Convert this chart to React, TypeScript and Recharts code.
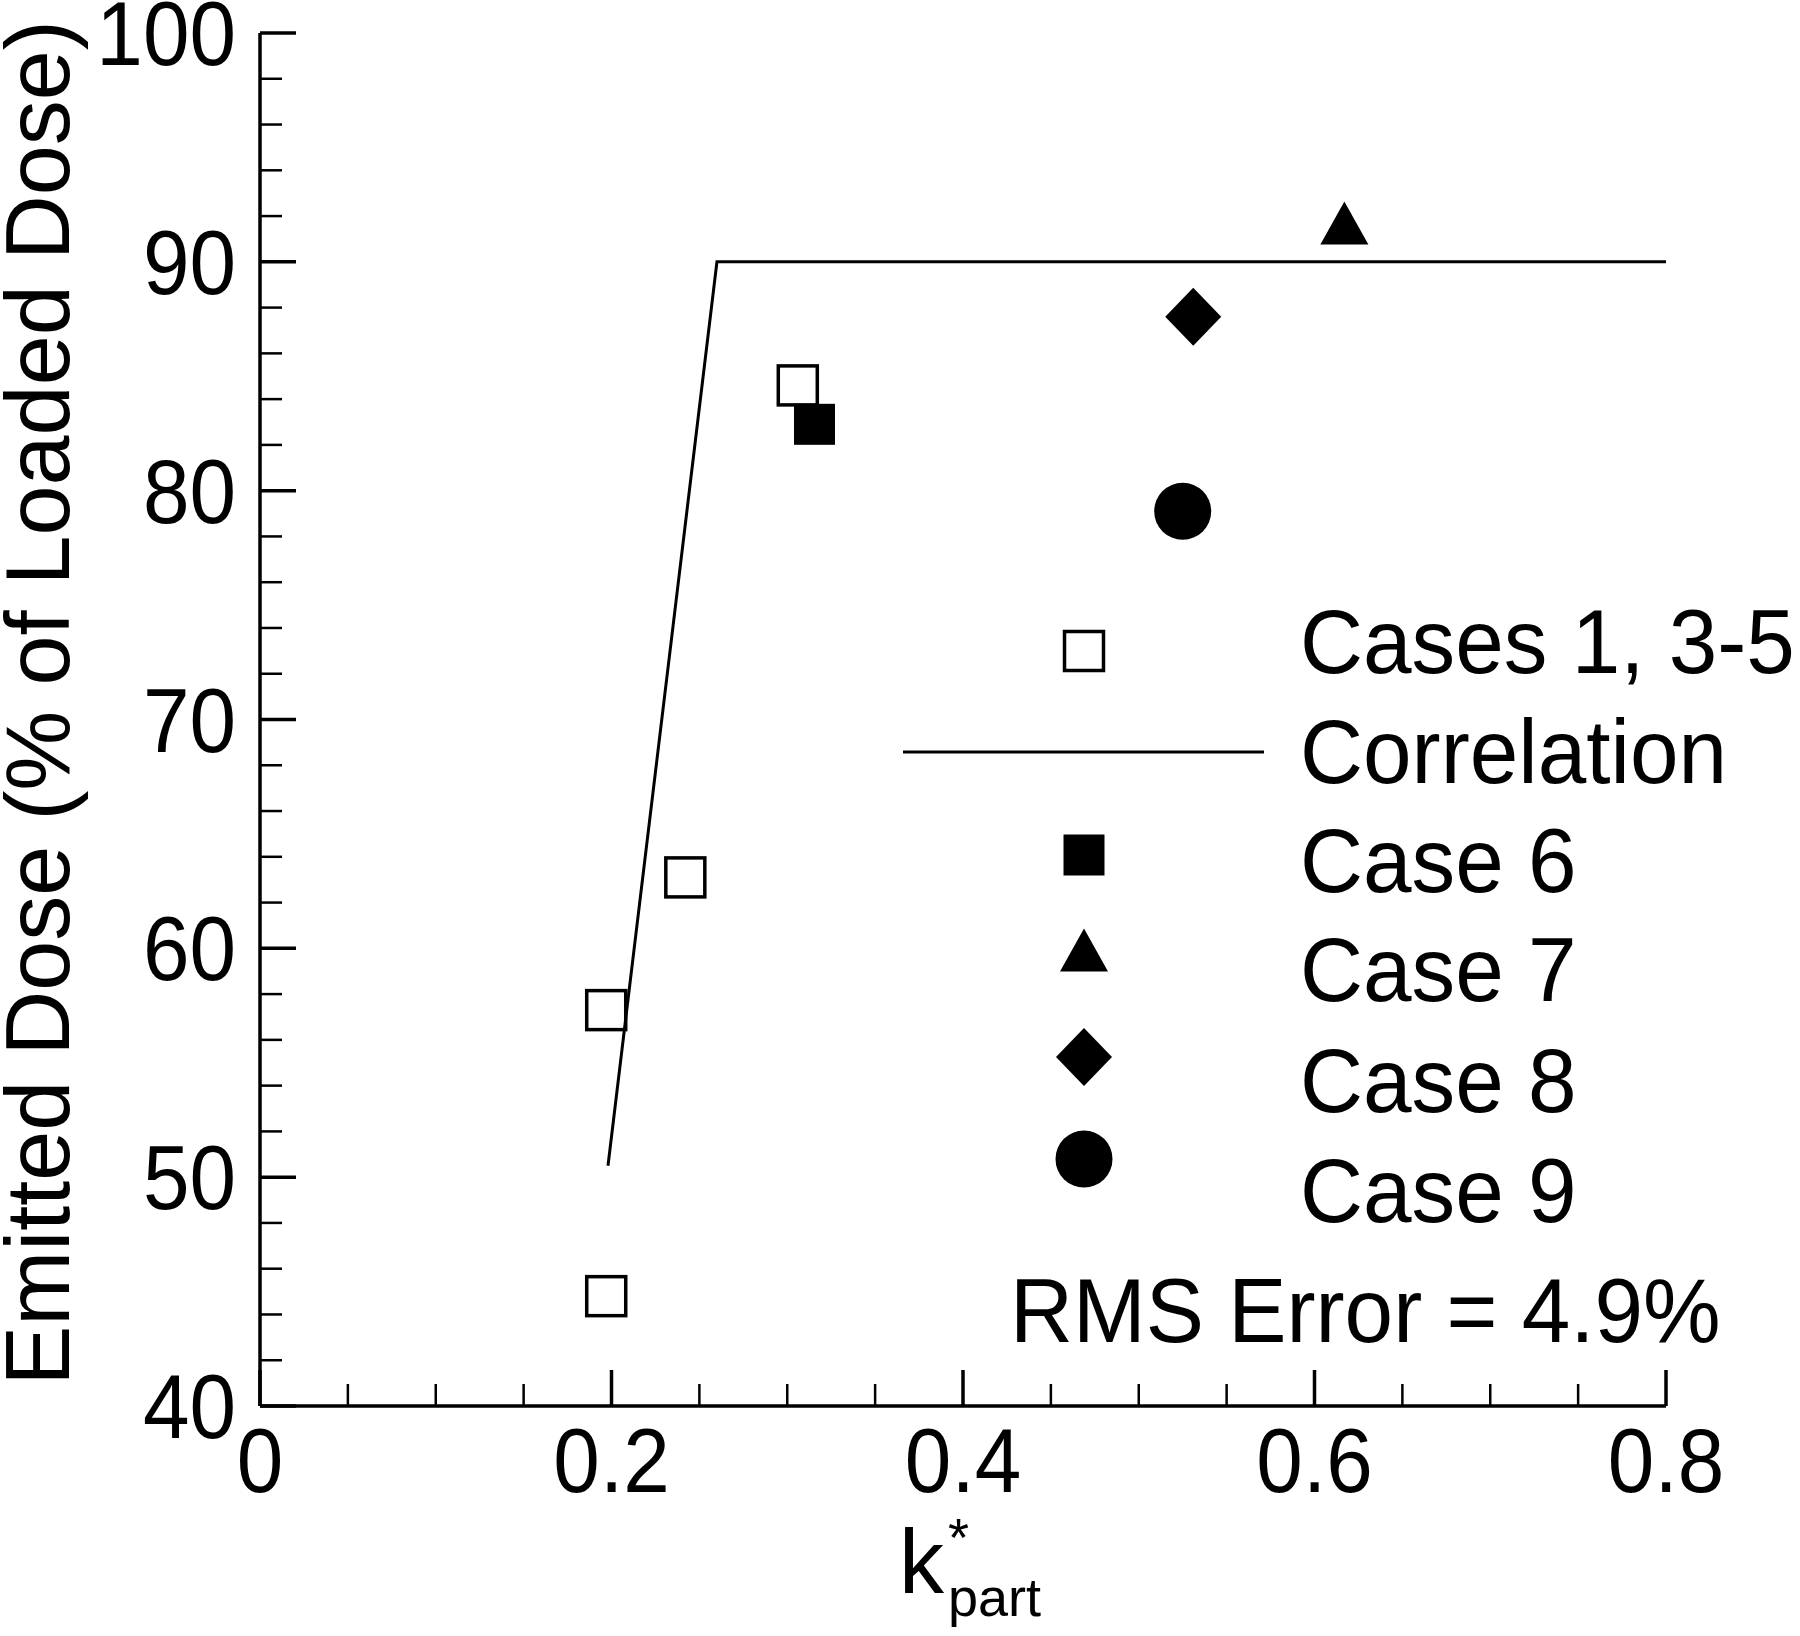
import React from 'react';
import { ScatterChart, Scatter, XAxis, YAxis, Legend, Label } from 'recharts';

const FONT = '"Liberation Sans", Arial, Helvetica, sans-serif';

// Tick values (major + minor)
const xTicks = [0, 0.05, 0.1, 0.15, 0.2, 0.25, 0.3, 0.35, 0.4, 0.45, 0.5, 0.55, 0.6, 0.65, 0.7, 0.75, 0.8];
const xMajorTicks = [0, 0.2, 0.4, 0.6, 0.8];
const yTicks = [40, 42, 44, 46, 48, 50, 52, 54, 56, 58, 60, 62, 64, 66, 68, 70, 72, 74, 76, 78, 80, 82, 84, 86, 88, 90, 92, 94, 96, 98, 100];
const yMajorTicks = [40, 50, 60, 70, 80, 90, 100];

// Series values
const cases1to5X = [0.197, 0.197, 0.242, 0.306];
const cases1to5Y = [44.8, 57.3, 63.1, 84.6];
const case6X = [0.3155];
const case6Y = [82.9];
const case7X = [0.617];
const case7Y = [91.7];
const case8X = [0.531];
const case8Y = [87.6];
const case9X = [0.525];
const case9Y = [79.1];
const correlationX = [0.198, 0.26, 0.8];
const correlationY = [50.5, 90, 90];

const legendLabels = ['Cases 1, 3-5', 'Correlation', 'Case 6', 'Case 7', 'Case 8', 'Case 9'];
const rmsText = 'RMS Error = 4.9%';
const yTitle = 'Emitted Dose (% of Loaded Dose)';

const toPoints = (xs: number[], ys: number[]) => xs.map((x, i) => ({ x, y: ys[i] }));

const isMajor = (v: number, majors: number[]) => majors.some((m) => Math.abs(m - v) < 1e-9);

// ---- marker shapes ----
const OpenSquare = ({ cx, cy, s = 39 }: any) => (
  <rect x={cx - s / 2} y={cy - s / 2} width={s} height={s} fill="none" stroke="#000" strokeWidth={3.5} />
);
const FilledSquare = ({ cx, cy, s = 41 }: any) => (
  <rect x={cx - s / 2} y={cy - s / 2} width={s} height={s} fill="#000" />
);
const Triangle = ({ cx, cy, w = 48, h = 43 }: any) => (
  <polygon points={`${cx},${cy - h / 2} ${cx + w / 2},${cy + h / 2} ${cx - w / 2},${cy + h / 2}`} fill="#000" />
);
const Diamond = ({ cx, cy, w = 56, h = 58 }: any) => (
  <polygon points={`${cx},${cy - h / 2} ${cx + w / 2},${cy} ${cx},${cy + h / 2} ${cx - w / 2},${cy}`} fill="#000" />
);
const Dot = ({ cx, cy, r = 28.5 }: any) => <circle cx={cx} cy={cy} r={r} fill="#000" />;

// ---- ticks ----
const XTick = (props: any) => {
  const { x, y, payload } = props;
  const v = payload.value;
  const major = isMajor(v, xMajorTicks);
  return (
    <g>
      <line x1={x} y1={y} x2={x} y2={y - (major ? 36 : 22)} stroke="#000" strokeWidth={major ? 3.5 : 2.5} />
      {major && (
        <text
          transform={`translate(${x},${y + 86}) scale(0.93,1)`}
          textAnchor="middle"
          fontSize={90}
          fontFamily={FONT}
          fill="#000"
        >
          {String(v)}
        </text>
      )}
    </g>
  );
};

const YTick = (props: any) => {
  const { x, y, payload } = props;
  const v = payload.value;
  const major = isMajor(v, yMajorTicks);
  return (
    <g>
      <line x1={x} y1={y} x2={x + (major ? 36 : 22)} y2={y} stroke="#000" strokeWidth={major ? 3.5 : 2.5} />
      {major && (
        <text
          transform={`translate(${x - 24},${y + 32}) scale(0.93,1)`}
          textAnchor="end"
          fontSize={90}
          fontFamily={FONT}
          fill="#000"
        >
          {String(v)}
        </text>
      )}
    </g>
  );
};

// ---- axis titles ----
const XTitle = () => (
  <g fontFamily={FONT} fill="#000">
    <text x={899} y={1593} fontSize={90}>k</text>
    <text x={948} y={1556} fontSize={54}>*</text>
    <text x={948} y={1616} fontSize={54}>part</text>
  </g>
);

const YTitle = () => (
  <text
    transform="translate(69,703) rotate(-90)"
    textAnchor="middle"
    fontSize={90}
    fontFamily={FONT}
    fill="#000"
  >
    {yTitle}
  </text>
);

// ---- legend ----
const legendMarkerX = 204;
const legendMarkerY = [51, 152, 255, 350, 457, 559];
const legendTextY = [73, 183, 292, 401, 512, 622];

const LegendContent = () => (
  <svg width={920} height={800} style={{ display: 'block', overflow: 'visible' }}>
    <OpenSquare cx={legendMarkerX} cy={legendMarkerY[0]} />
    <line x1={23} y1={legendMarkerY[1]} x2={384} y2={legendMarkerY[1]} stroke="#000" strokeWidth={3} />
    <FilledSquare cx={legendMarkerX} cy={legendMarkerY[2]} />
    <Triangle cx={legendMarkerX} cy={legendMarkerY[3]} />
    <Diamond cx={legendMarkerX} cy={legendMarkerY[4]} />
    <Dot cx={legendMarkerX} cy={legendMarkerY[5]} />
    {legendLabels.map((t, i) => (
      <text
        key={t}
        transform={`translate(420,${legendTextY[i]}) scale(0.97,1)`}
        fontSize={90}
        fontFamily={FONT}
        fill="#000"
      >
        {t}
      </text>
    ))}
    <text transform="translate(130,742) scale(0.97,1)" fontSize={90} fontFamily={FONT} fill="#000">
      {rmsText}
    </text>
  </svg>
);

export default function App() {
  return (
    <div style={{ position: 'absolute', left: 0, top: 0, width: 1800, height: 1636, background: '#fff' }}>
      <ScatterChart width={1800} height={1636} margin={{ top: 33, right: 134, bottom: 0, left: 0 }}>
        <XAxis
          type="number"
          dataKey="x"
          domain={[0, 0.8]}
          ticks={xTicks}
          interval={0}
          allowDataOverflow
          height={230}
          tickSize={0}
          tickMargin={0}
          tickLine={false}
          axisLine={{ stroke: '#000', strokeWidth: 3.5 }}
          tick={<XTick />}
        >
          <Label content={<XTitle />} />
        </XAxis>
        <YAxis
          type="number"
          dataKey="y"
          domain={[40, 100]}
          ticks={yTicks}
          interval={0}
          allowDataOverflow
          width={260}
          tickSize={0}
          tickMargin={0}
          tickLine={false}
          axisLine={{ stroke: '#000', strokeWidth: 3.5 }}
          tick={<YTick />}
        >
          <Label content={<YTitle />} />
        </YAxis>
        <Legend
          layout="vertical"
          align="center"
          verticalAlign="middle"
          width={920}
          height={800}
          wrapperStyle={{ left: 880, top: 600, width: 920, height: 800 }}
          content={<LegendContent />}
        />
        <Scatter
          name="Correlation"
          data={toPoints(correlationX, correlationY)}
          line={{ stroke: '#000', strokeWidth: 3 }}
          shape={() => <g />}
          isAnimationActive={false}
        />
        <Scatter
          name="Cases 1, 3-5"
          data={toPoints(cases1to5X, cases1to5Y)}
          shape={(p: any) => <OpenSquare cx={p.cx} cy={p.cy} />}
          isAnimationActive={false}
        />
        <Scatter
          name="Case 6"
          data={toPoints(case6X, case6Y)}
          shape={(p: any) => <FilledSquare cx={p.cx} cy={p.cy} />}
          isAnimationActive={false}
        />
        <Scatter
          name="Case 7"
          data={toPoints(case7X, case7Y)}
          shape={(p: any) => <Triangle cx={p.cx} cy={p.cy} />}
          isAnimationActive={false}
        />
        <Scatter
          name="Case 8"
          data={toPoints(case8X, case8Y)}
          shape={(p: any) => <Diamond cx={p.cx} cy={p.cy} />}
          isAnimationActive={false}
        />
        <Scatter
          name="Case 9"
          data={toPoints(case9X, case9Y)}
          shape={(p: any) => <Dot cx={p.cx} cy={p.cy} />}
          isAnimationActive={false}
        />
      </ScatterChart>
    </div>
  );
}
